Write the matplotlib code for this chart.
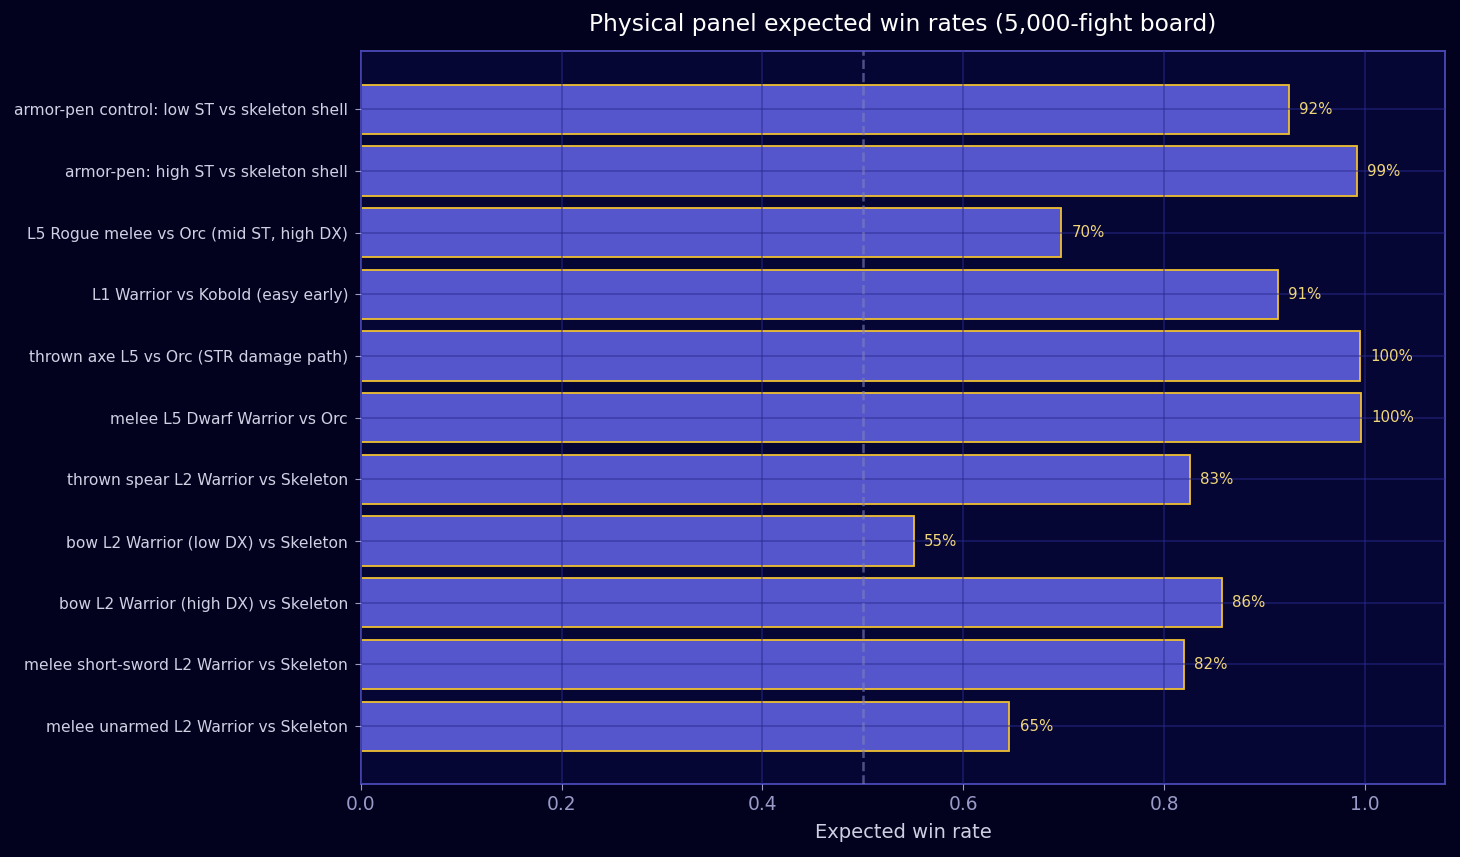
import numpy as np
import matplotlib
matplotlib.use("Agg")
import matplotlib.pyplot as plt

# listed bottom to top
labels = [
    "melee unarmed L2 Warrior vs Skeleton",
    "melee short-sword L2 Warrior vs Skeleton",
    "bow L2 Warrior (high DX) vs Skeleton",
    "bow L2 Warrior (low DX) vs Skeleton",
    "thrown spear L2 Warrior vs Skeleton",
    "melee L5 Dwarf Warrior vs Orc",
    "thrown axe L5 vs Orc (STR damage path)",
    "L1 Warrior vs Kobold (easy early)",
    "L5 Rogue melee vs Orc (mid ST, high DX)",
    "armor-pen: high ST vs skeleton shell",
    "armor-pen control: low ST vs skeleton shell",
]
win_rates = [0.646, 0.820, 0.858, 0.551, 0.826, 0.996, 0.995, 0.913, 0.6975, 0.992, 0.924]

fig_bg = "#02021e"
ax_bg = "#060634"

fig = plt.figure(figsize=(14.6, 8.57), dpi=100, facecolor=fig_bg)
ax = fig.add_axes([0.247, 0.085, 0.743, 0.855])
ax.set_facecolor(ax_bg)

y = np.arange(len(labels))
ax.barh(y, win_rates, height=0.8, color="#5555cc", edgecolor="#f0c030", linewidth=1.3, zorder=1)
ax.grid(True, color="#2a2a90", alpha=0.55, linewidth=1.2, zorder=2)
ax.set_axisbelow(False)
ax.axvline(0.5, color="#8080c0", linestyle="--", linewidth=1.8, alpha=0.6, zorder=3)

for yi, v in zip(y, win_rates):
    ax.text(v + 0.01, yi, f"{v:.0%}", va="center", ha="left", fontsize=10.8, color="#f0d67a", zorder=4)

ax.set_xlim(0, 1.08)
ax.set_yticks(y)
ax.set_yticklabels(labels, fontsize=11.2)
ax.tick_params(axis="x", labelsize=13.4, colors="#9a9ac8", labelcolor="#9a9ac8", length=4.5)
ax.tick_params(axis="y", colors="#9a9ac8", labelcolor="#d0d0e4", length=4.5, pad=4.5)
for s in ax.spines.values():
    s.set_color("#4a4ab8")
    s.set_linewidth(1.3)

ax.set_xlabel("Expected win rate", fontsize=14, color="#d0d0e4", labelpad=6)
ax.set_title("Physical panel expected win rates (5,000-fight board)", fontsize=16.8, color="#ffffff", pad=14.5)

fig.savefig("out.png", dpi=100, facecolor=fig_bg)
